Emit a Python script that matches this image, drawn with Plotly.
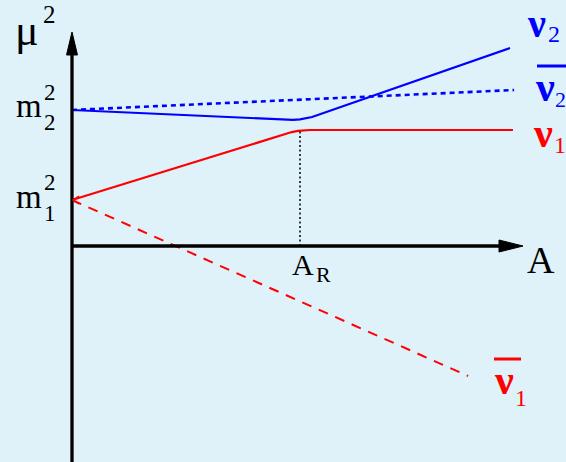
import plotly.graph_objects as go

# Level-crossing sketch: squared masses vs. matter potential A
# Units: A in multiples of A_R, mu^2 in multiples of m1^2
m1_sq = 1.0
m2_sq = 2.957
A_R = 1.0

# neutrino nu_2 (upper branch, rounded near the resonance)
nu2_A = [0.0, 0.934, 0.969, 1.000, 1.028, 1.053, 1.921]
nu2_mu = [2.957, 2.743, 2.741, 2.751, 2.772, 2.804, 4.304]

# neutrino nu_1 (lower branch, levels off after the resonance)
nu1_A = [0.0, 0.939, 0.964, 0.991, 1.017, 1.044, 1.934]
nu1_mu = [1.0, 2.441, 2.477, 2.501, 2.517, 2.522, 2.522]

# antineutrinos
anu2_A = [0.0, 1.939]
anu2_mu = [2.957, 3.391]
anu1_A = [0.0, 1.737]
anu1_mu = [1.0, -2.826]

W, H = 566, 462
OX, OY = 72, 246          # pixel position of the origin
SA, SM = 228.0, 46.0      # pixels per unit of A and of mu^2

x_range = [-OX / SA, (W - OX) / SA]
y_range = [-(H - OY) / SM, OY / SM]

BLUE = "#0000ff"
RED = "#ff0000"
BG = "#dff2fa"
SERIF = "Liberation Serif, Times New Roman, serif"

fig = go.Figure()

fig.add_trace(go.Scatter(x=nu2_A, y=nu2_mu, mode="lines",
                         line=dict(color=BLUE, width=2.2)))
fig.add_trace(go.Scatter(x=anu2_A, y=anu2_mu, mode="lines",
                         line=dict(color=BLUE, width=2.6, dash="5px,4px")))
fig.add_trace(go.Scatter(x=nu1_A, y=nu1_mu, mode="lines",
                         line=dict(color=RED, width=2.2)))
fig.add_trace(go.Scatter(x=anu1_A, y=anu1_mu, mode="lines",
                         line=dict(color=RED, width=2.0, dash="10px,8px")))
# resonance marker
fig.add_trace(go.Scatter(x=[A_R, A_R], y=[0, nu1_mu[4]], mode="lines",
                         line=dict(color="black", width=1.5, dash="2px,2.5px")))


def dx(p):
    return p / SA


def dy(p):
    return p / SM


shapes = []
# vertical axis with arrowhead
shapes.append(dict(type="line", xref="x", yref="y", x0=0, x1=0,
                   y0=y_range[0] - 1, y1=dy(OY - 52),
                   line=dict(color="black", width=3.3)))
shapes.append(dict(type="path", xref="x", yref="y",
                   path=f"M {-dx(5.5)} {dy(OY-55)} L {dx(5.5)} {dy(OY-55)} L 0 {dy(OY-32)} Z",
                   fillcolor="black", line=dict(color="black", width=1)))
# horizontal axis with arrowhead
shapes.append(dict(type="line", xref="x", yref="y", x0=0, x1=dx(502 - OX),
                   y0=0, y1=0, line=dict(color="black", width=3.3)))
shapes.append(dict(type="path", xref="x", yref="y",
                   path=f"M {dx(499-OX)} {dy(6)} L {dx(499-OX)} {dy(-6)} L {dx(523-OX)} 0 Z",
                   fillcolor="black", line=dict(color="black", width=1)))
# small open tip at the start of the nu_1 branch
shapes.append(dict(type="path", xref="x", yref="y",
                   path=(f"M {dx(7)} {m1_sq + dy(4)} L {dx(1)} {m1_sq} "
                         f"L {dx(7)} {m1_sq - dy(4)}"),
                   line=dict(color=RED, width=1.5)))


def bar(x0, x1, y, color):
    shapes.append(dict(type="line", xref="paper", yref="paper",
                       x0=x0 / W, x1=x1 / W, y0=1 - y / H, y1=1 - y / H,
                       line=dict(color=color, width=3)))


bar(537, 566, 66, BLUE)
bar(494, 521, 359, RED)

annotations = []


def label(text, x, y, size, color="black", bold=False):
    t = f"<b>{text}</b>" if bold else text
    annotations.append(dict(text=t, x=x / W, y=1 - y / H, xref="paper", yref="paper",
                            xanchor="left", yanchor="middle", showarrow=False,
                            borderpad=0, borderwidth=0,
                            font=dict(family=SERIF, size=size, color=color)))


# vertical axis title
label("μ", 15, 30, 44)
label("2", 43, 15, 25)
# mass levels
label("m", 16, 106, 33)
label("2", 44, 92, 23)
label("2", 44, 122, 23)
label("m", 16, 197, 33)
label("2", 44, 183, 23)
label("1", 44, 213, 23)
# horizontal axis
label("A", 527, 260, 38)
label("A", 292, 264, 30)
label("R", 316, 274, 22)
# branch names
label("ν", 527, 23, 40, BLUE, True)
label("2", 548, 34, 24, BLUE)
label("ν", 535, 87, 42, BLUE, True)
label("2", 555, 99, 22, BLUE)
label("ν", 533, 133, 42, RED, True)
label("1", 554, 145, 24, RED)
label("ν", 494, 380, 42, RED, True)
label("1", 515, 398, 24, RED)

fig.update_layout(
    width=W, height=H,
    margin=dict(l=0, r=0, t=0, b=0),
    paper_bgcolor=BG, plot_bgcolor=BG,
    showlegend=False,
    xaxis=dict(range=x_range, visible=False, fixedrange=True),
    yaxis=dict(range=y_range, visible=False, fixedrange=True),
    shapes=shapes,
    annotations=annotations,
)

fig.write_html("out.html")
